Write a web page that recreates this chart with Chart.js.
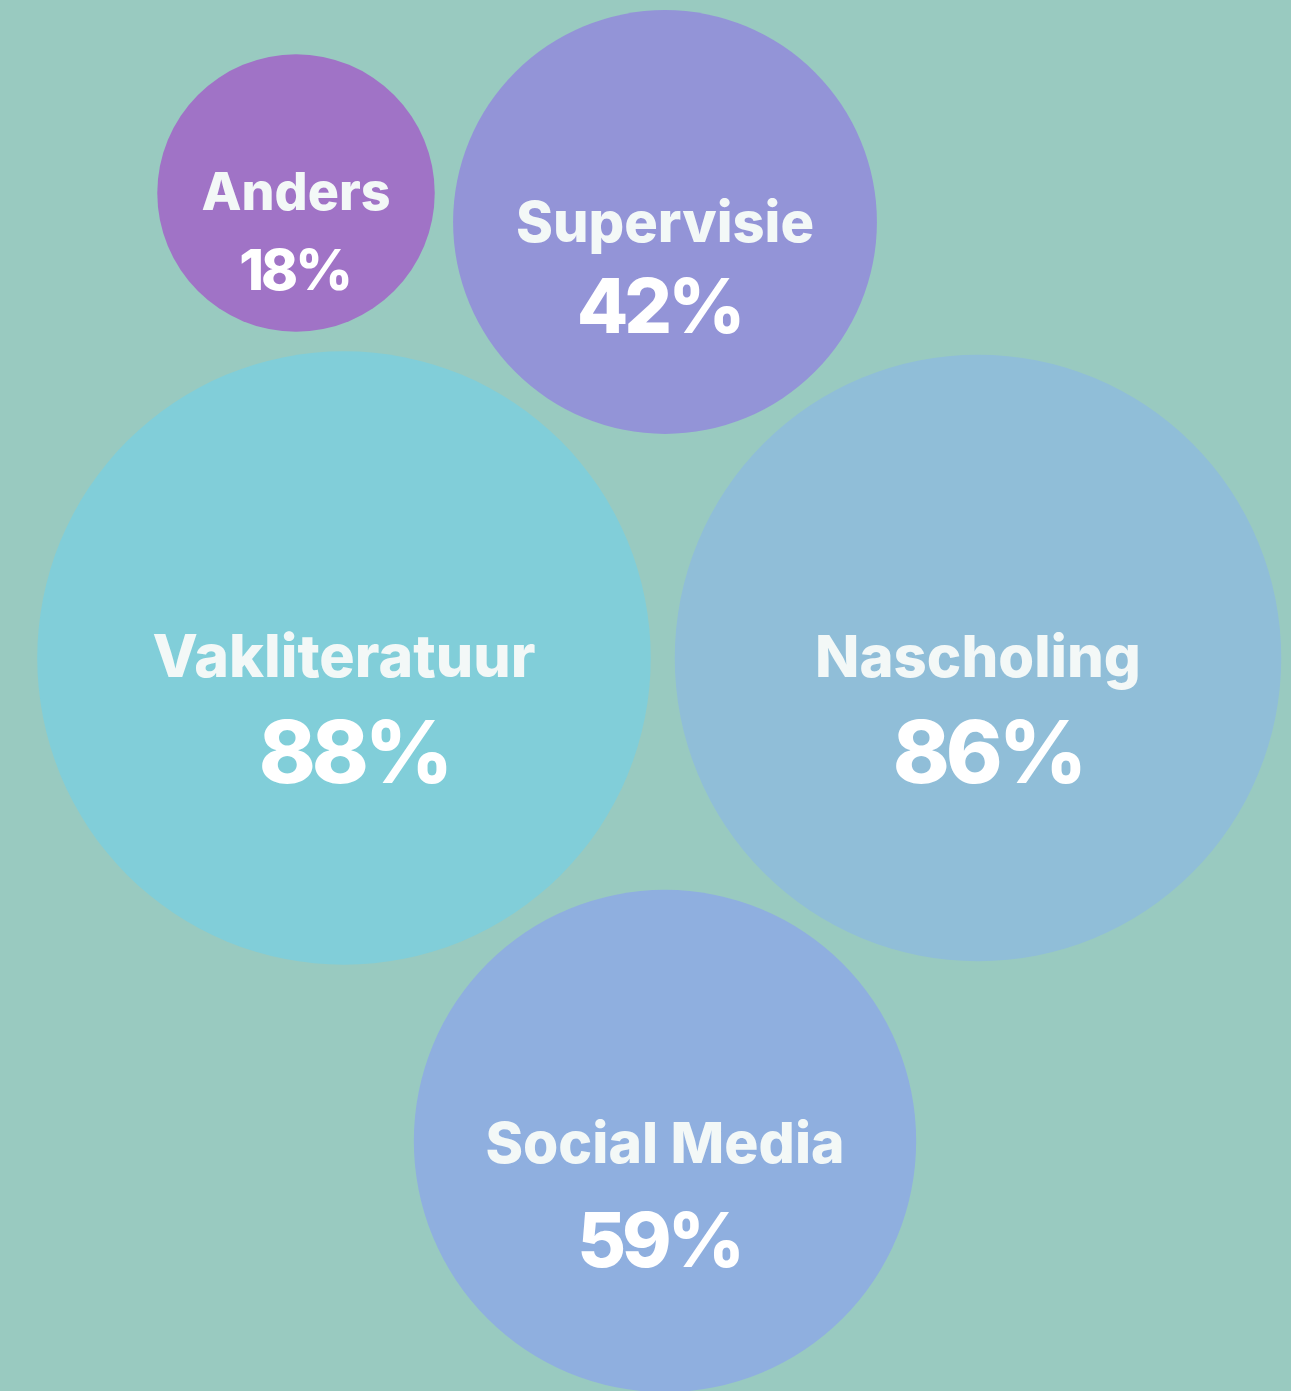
<!DOCTYPE html>
<html>
<head>
<meta charset="utf-8">
<script src="https://cdn.jsdelivr.net/npm/chart.js@4/dist/chart.umd.min.js"></script>
<style>
  html, body { margin: 0; padding: 0; background: #99CAC0; }
  #wrap { width: 1291px; height: 1391px; }
</style>
</head>
<body>
<div id="wrap"><canvas id="bellen" width="1291" height="1391"></canvas></div>
<script>
// categorieen en percentages
const labels = ["Anders", "Supervisie", "Vakliteratuur", "Nascholing", "Social Media"];
const waarden = [18, 42, 88, 86, 59];

// posities van de bellen (in schaal-eenheden)
const posX = [296, 665, 344, 978, 665];
const posY = [193, 222, 658, 658, 1141];

const kleuren = ["#A073C6", "#9394D7", "#81CED9", "#90BED8", "#8FAFDF"];

// tekststijl per bel: grootte en verschuiving t.o.v. het midden
const labelSize = [52, 56, 59, 58, 57];
const labelDy = [17, 20, 19, 19, 22];
const pctSize = [56, 75, 86, 86, 75];
const pctDx = [0, -4, 12, 12, -4];
const pctDy = [97, 111, 125, 125, 126];

const FONT = "'Inter', 'Open Sans', sans-serif";
const K = 32.7; // straal = K * wortel(waarde)

const tekstPlugin = {
    id: "tekst",
    afterDatasetsDraw(chart){
        const ctx = chart.ctx;
        const meta = chart.getDatasetMeta(0);
        ctx.save();
        ctx.textAlign = "center";
        ctx.textBaseline = "alphabetic";
        meta.data.forEach((el, i) => {
            ctx.fillStyle = "#F3F8F7";
            ctx.font = "800 " + labelSize[i] + "px " + FONT;
            ctx.letterSpacing = "0px";
            ctx.fillText(labels[i], el.x, el.y + labelDy[i]);

            ctx.fillStyle = "#FFFFFF";
            ctx.font = "800 " + pctSize[i] + "px " + FONT;
            const ls = Math.round(pctSize[i] * 0.05);
            ctx.letterSpacing = (-ls) + "px";
            ctx.fillText(waarden[i] + "%", el.x - ls / 2 + pctDx[i], el.y + pctDy[i]);
        });
        ctx.restore();
    }
};

new Chart(document.getElementById("bellen"), {
    type: "bubble",
    data: {
        labels: labels,
        datasets: [{
            data: waarden.map((v, i) => ({ x: posX[i], y: posY[i], r: K * Math.sqrt(v) })),
            backgroundColor: kleuren,
            hoverBackgroundColor: kleuren,
            borderWidth: 0,
            hoverBorderWidth: 0,
            clip: false
        }]
    },
    options: {
        responsive: false,
        animation: false,
        layout: { padding: 0, autoPadding: false },
        events: [],
        plugins: { legend: { display: false }, tooltip: { enabled: false } },
        scales: {
            x: { type: "linear", min: 0, max: 1291, display: false },
            y: { type: "linear", min: 0, max: 1391, reverse: true, display: false }
        }
    },
    plugins: [tekstPlugin]
});
</script>
</body>
</html>
